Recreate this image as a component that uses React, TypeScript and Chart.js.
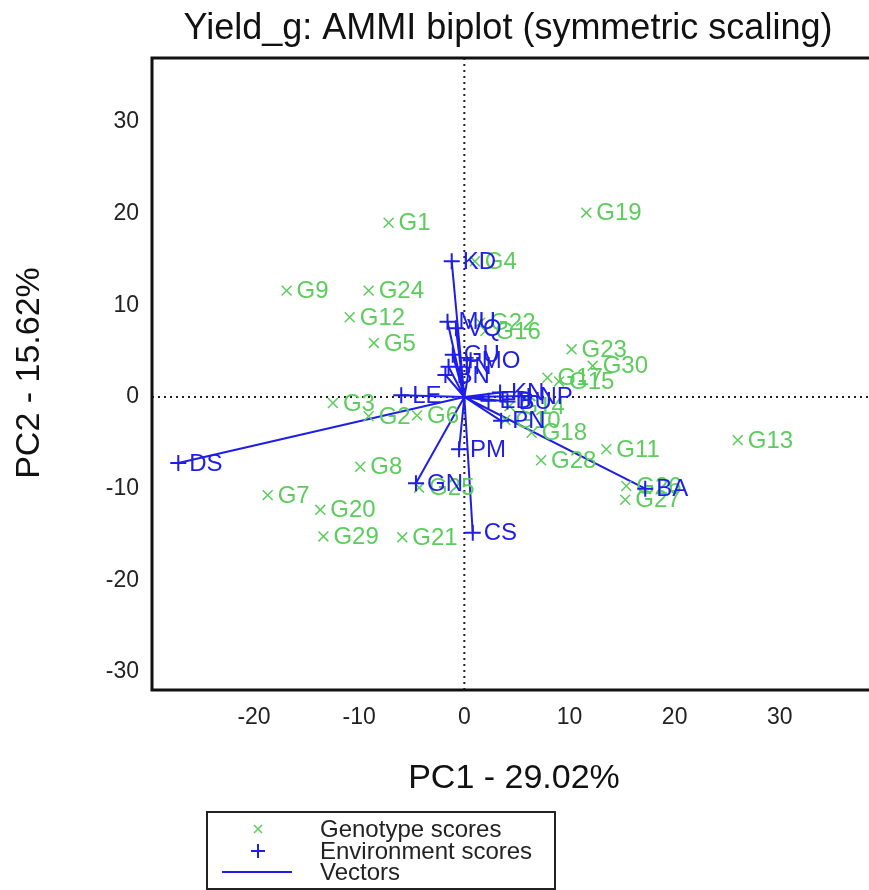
import { useEffect, useRef } from 'react';
import { Chart, registerables } from 'chart.js';

Chart.register(...registerables);

const genotypeLabels = ['G1','G2','G3','G4','G5','G6','G7','G8','G9','G10','G11','G12','G13','G14','G15','G16','G17','G18','G19','G20','G21','G22','G23','G24','G25','G26','G27','G28','G29','G30'];
const genotypePC1 = [-7.2,-9.1,-12.5,1.0,-8.6,-4.5,-18.7,-9.9,-16.9,3.9,13.5,-10.9,26.0,4.3,9.0,2.0,7.9,6.4,11.6,-13.7,-5.9,1.5,10.2,-9.1,-4.3,15.4,15.3,7.3,-13.4,12.2];
const genotypePC2 = [19.0,-2.1,-0.65,14.8,5.9,-2.0,-10.7,-7.6,11.6,-2.5,-5.7,8.7,-4.7,-1.0,1.7,7.2,2.1,-3.9,20.1,-12.3,-15.3,8.1,5.2,11.6,-9.9,-9.7,-11.2,-6.9,-15.2,3.4];

const environmentLabels = ['KD','MU','VQ','GU','MO','TN','BN','LE','DS','GN','PM','CS','PN','BA','KN','NP','ED','BU'];
const environmentPC1 = [-1.2,-1.6,-0.8,-1.1,0.6,-1.5,-1.8,-6.0,-27.2,-4.6,-0.5,0.8,3.5,17.2,3.4,6.1,2.3,4.1];
const environmentPC2 = [14.8,8.2,7.5,4.6,4.0,3.3,2.4,0.2,-7.2,-9.4,-5.7,-14.8,-2.6,-10.0,0.5,0.1,-0.4,-0.5];

const xTicks = [-20, -10, 0, 10, 20, 30];
const yTicks = [-30, -20, -10, 0, 10, 20, 30];

const titleText = 'Yield_g: AMMI biplot (symmetric scaling)';
const xTitleText = 'PC1 - 29.02%';
const yTitleText = 'PC2 - 15.62%';
const legendItems = ['Genotype scores', 'Environment scores', 'Vectors'];

const GREEN = '#5ccd5c';
const BLUE = '#1e1ee8';
const FONT = '"Liberation Sans", Arial, Helvetica, sans-serif';
const CANVAS_W = 889;
const CANVAS_H = 890;

const biplotPlugin = {
  id: 'biplot',
  beforeDatasetsDraw(chart: any) {
    const { ctx, chartArea, scales } = chart;
    const x0 = scales.x.getPixelForValue(0);
    const y0 = scales.y.getPixelForValue(0);
    ctx.save();
    ctx.strokeStyle = '#222';
    ctx.lineWidth = 2;
    ctx.setLineDash([2, 4]);
    ctx.beginPath();
    ctx.moveTo(x0, chartArea.top);
    ctx.lineTo(x0, chartArea.bottom);
    ctx.moveTo(chartArea.left, y0);
    ctx.lineTo(chartArea.right, y0);
    ctx.stroke();
    ctx.restore();
  },
  afterDatasetDraw(chart: any, args: any) {
    const ds = chart.data.datasets[args.index];
    if (!ds.pointLabels) return;
    const { ctx } = chart;
    ctx.save();
    ctx.font = `24px ${FONT}`;
    ctx.fillStyle = ds.labelColor;
    ctx.textAlign = 'left';
    ctx.textBaseline = 'middle';
    args.meta.data.forEach((el: any, i: number) => {
      ctx.fillText(ds.pointLabels[i], el.x + ds.labelOffset, el.y + 1);
    });
    ctx.restore();
  },
  afterDraw(chart: any) {
    const { ctx, chartArea } = chart;
    ctx.save();
    // frame
    ctx.strokeStyle = '#111';
    ctx.lineWidth = 3;
    ctx.beginPath();
    ctx.moveTo(chartArea.right + 2, chartArea.top);
    ctx.lineTo(chartArea.left, chartArea.top);
    ctx.lineTo(chartArea.left, chartArea.bottom);
    ctx.lineTo(chartArea.right + 2, chartArea.bottom);
    ctx.stroke();

    // titles
    ctx.fillStyle = '#111';
    ctx.textAlign = 'center';
    ctx.textBaseline = 'alphabetic';
    ctx.font = `36px ${FONT}`;
    ctx.fillText(titleText, 508, 39);
    ctx.font = `34px ${FONT}`;
    ctx.fillText(xTitleText, 514, 788);
    ctx.save();
    ctx.translate(39, 373);
    ctx.rotate(-Math.PI / 2);
    ctx.fillText(yTitleText, 0, 0);
    ctx.restore();

    // legend
    ctx.lineWidth = 2;
    ctx.strokeStyle = '#222';
    ctx.setLineDash([]);
    ctx.strokeRect(207, 812, 348, 77);
    const rows = [829, 851, 872];
    ctx.font = `24px ${FONT}`;
    ctx.textAlign = 'left';
    ctx.textBaseline = 'middle';
    ctx.fillStyle = '#222';
    legendItems.forEach((t, i) => ctx.fillText(t, 320, rows[i] + 1));
    // genotype symbol
    ctx.strokeStyle = GREEN;
    ctx.lineWidth = 1.5;
    ctx.beginPath();
    ctx.moveTo(254, rows[0] - 4); ctx.lineTo(262, rows[0] + 4);
    ctx.moveTo(262, rows[0] - 4); ctx.lineTo(254, rows[0] + 4);
    ctx.stroke();
    // environment symbol
    ctx.strokeStyle = BLUE;
    ctx.lineWidth = 2;
    ctx.beginPath();
    ctx.moveTo(251, rows[1]); ctx.lineTo(265, rows[1]);
    ctx.moveTo(258, rows[1] - 7); ctx.lineTo(258, rows[1] + 7);
    ctx.stroke();
    // vectors symbol
    ctx.beginPath();
    ctx.moveTo(222, rows[2]); ctx.lineTo(292, rows[2]);
    ctx.stroke();
    ctx.restore();
  },
};

export default function App() {
  const canvasRef = useRef<HTMLCanvasElement | null>(null);

  useEffect(() => {
    if (!canvasRef.current) return;
    const genotypePoints = genotypePC1.map((x, i) => ({ x, y: genotypePC2[i] }));
    const environmentPoints = environmentPC1.map((x, i) => ({ x, y: environmentPC2[i] }));
    const vectorPoints: any[] = [];
    environmentPC1.forEach((x, i) => {
      vectorPoints.push({ x: 0, y: 0 }, { x, y: environmentPC2[i] }, { x: NaN, y: NaN });
    });

    const chart = new Chart(canvasRef.current, {
      type: 'scatter',
      data: {
        datasets: [
          {
            label: 'Vectors',
            data: vectorPoints,
            showLine: true,
            spanGaps: false,
            borderColor: BLUE,
            borderWidth: 2,
            pointRadius: 0,
            order: 3,
          } as any,
          {
            label: 'Genotype scores',
            data: genotypePoints,
            pointStyle: 'crossRot',
            pointRadius: 7,
            pointBorderWidth: 1.5,
            borderColor: GREEN,
            backgroundColor: GREEN,
            pointLabels: genotypeLabels,
            labelColor: GREEN,
            labelOffset: 10,
            order: 2,
          } as any,
          {
            label: 'Environment scores',
            data: environmentPoints,
            pointStyle: 'cross',
            pointRadius: 8,
            pointBorderWidth: 2,
            borderColor: BLUE,
            backgroundColor: BLUE,
            pointLabels: environmentLabels,
            labelColor: BLUE,
            labelOffset: 11,
            order: 1,
          } as any,
        ],
      },
      options: {
        responsive: false,
        maintainAspectRatio: false,
        animation: false,
        layout: { padding: { top: 58, left: 0, right: 0, bottom: 0 } },
        plugins: {
          legend: { display: false },
          title: { display: false },
          tooltip: { enabled: false },
        },
        scales: {
          x: {
            type: 'linear',
            min: -29.7,
            max: 39.43,
            grid: { display: false, drawTicks: false },
            border: { display: false },
            ticks: { padding: 14, color: '#222', font: { size: 23, family: FONT } },
            afterBuildTicks: (s: any) => { s.ticks = xTicks.map((v) => ({ value: v })); },
            afterFit: (s: any) => { s.height = 200; },
          },
          y: {
            type: 'linear',
            min: -31.95,
            max: 36.97,
            grid: { display: false, drawTicks: false },
            border: { display: false },
            ticks: { padding: 13, color: '#222', font: { size: 23, family: FONT } },
            afterBuildTicks: (s: any) => { s.ticks = yTicks.map((v) => ({ value: v })); },
            afterFit: (s: any) => { s.width = 152; },
          },
        },
      } as any,
      plugins: [biplotPlugin],
    });
    return () => chart.destroy();
  }, []);

  return (
    <div style={{ position: 'fixed', left: 0, top: 0, width: 869, height: 890, overflow: 'hidden', background: '#fff' }}>
      <div style={{ width: CANVAS_W, height: CANVAS_H }}>
        <canvas ref={canvasRef} width={CANVAS_W} height={CANVAS_H} style={{ display: 'block', width: CANVAS_W, height: CANVAS_H }} />
      </div>
    </div>
  );
}
